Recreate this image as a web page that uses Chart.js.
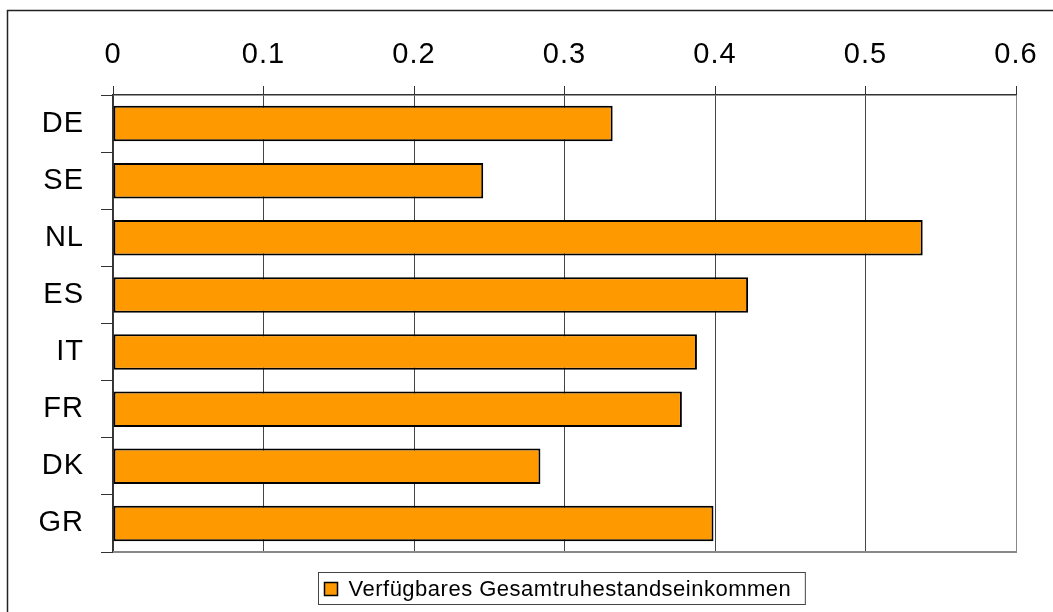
<!DOCTYPE html>
<html>
<head>
<meta charset="utf-8">
<script src="https://cdn.jsdelivr.net/npm/chart.js@4.4.1/dist/chart.umd.min.js"></script>
<style>
  html, body { margin: 0; padding: 0; background: #fff; }
  #wrap { width: 1053px; height: 612px; }
</style>
</head>
<body>
<div id="wrap"><canvas id="chart" width="1053" height="612"></canvas></div>
<script>
// Werte
const categories = ['DE', 'SE', 'NL', 'ES', 'IT', 'FR', 'DK', 'GR'];
const seriesLabel = 'Verfügbares Gesamtruhestandseinkommen';
const values = [0.332, 0.246, 0.538, 0.422, 0.388, 0.378, 0.284, 0.399];
const xTickLabels = ['0', '0.1', '0.2', '0.3', '0.4', '0.5', '0.6'];

const FONT = "'Liberation Sans', Arial, sans-serif";
const SPACING = '1px';

// Rahmen, untere Linie und Legende
const framePlugin = {
    id: 'frame',
    beforeUpdate(chart) {
        chart.ctx.letterSpacing = SPACING;
    },
    beforeDraw(chart) {
        const ctx = chart.ctx;
        ctx.letterSpacing = SPACING;
        ctx.save();
        ctx.fillStyle = '#fff';
        ctx.fillRect(0, 0, chart.width, chart.height);
        ctx.strokeStyle = '#222';
        ctx.lineWidth = 1.5;
        ctx.strokeRect(7.5, 10.5, chart.width + 50, chart.height + 50);
        ctx.restore();
    },
    afterDraw(chart) {
        const ctx = chart.ctx;
        const a = chart.chartArea;
        ctx.save();
        ctx.strokeStyle = '#888';
        ctx.lineWidth = 2;
        ctx.beginPath();
        ctx.moveTo(a.left, a.bottom);
        ctx.lineTo(a.right + 1, a.bottom);
        ctx.stroke();

        // Legende
        const ds = chart.data.datasets[0];
        ctx.font = '22px ' + FONT;
        ctx.letterSpacing = '0.5px';
        const textW = ctx.measureText(ds.label).width;
        const boxW = textW + 44;
        const boxX = Math.round((a.left + a.right) / 2 - boxW / 2) - 2.5;
        const boxY = 572.5;
        ctx.strokeStyle = '#444';
        ctx.lineWidth = 1;
        ctx.strokeRect(boxX, boxY, boxW, 32);
        ctx.fillStyle = ds.backgroundColor;
        ctx.fillRect(boxX + 6, boxY + 10, 13, 13);
        ctx.strokeStyle = '#000';
        ctx.lineWidth = 1.5;
        ctx.strokeRect(boxX + 6, boxY + 10, 13, 13);
        ctx.fillStyle = '#000';
        ctx.textBaseline = 'middle';
        ctx.textAlign = 'left';
        ctx.fillText(ds.label, boxX + 30, boxY + 17);
        ctx.restore();
        ctx.letterSpacing = SPACING;
    }
};

const ctx = document.getElementById('chart').getContext('2d');
new Chart(ctx, {
    type: 'bar',
    data: {
        labels: categories,
        datasets: [{
            label: seriesLabel,
            data: values,
            backgroundColor: '#FF9900',
            borderColor: '#000',
            borderWidth: 2,
            borderSkipped: false,
            categoryPercentage: 0.62,
            barPercentage: 1
        }]
    },
    options: {
        indexAxis: 'y',
        responsive: false,
        devicePixelRatio: 1,
        animation: false,
        layout: { padding: { top: 0, left: 0, right: 37, bottom: 60 } },
        plugins: {
            legend: { display: false },
            tooltip: { enabled: false }
        },
        scales: {
            x: {
                position: 'top',
                min: 0,
                max: 0.6,
                afterFit(scale) { scale.height = 95; },
                ticks: {
                    stepSize: 0.1,
                    color: '#000',
                    padding: 14,
                    maxRotation: 0,
                    font: { family: FONT, size: 29 },
                    callback: (v, i) => xTickLabels[i]
                },
                grid: {
                    color: (c) => (c.tick && Math.abs(c.tick.value - 0.6) < 1e-6) ? '#888' : '#444',
                    lineWidth: 1,
                    tickColor: '#333',
                    tickLength: 9
                },
                border: { color: '#333', width: 1.5 }
            },
            y: {
                afterFit(scale) { scale.width = 113; },
                ticks: {
                    color: '#000',
                    padding: 17,
                    font: { family: FONT, size: 29 }
                },
                grid: {
                    drawOnChartArea: false,
                    tickColor: '#333',
                    tickLength: 12,
                    offset: true
                },
                border: { color: '#333', width: 1.5 }
            }
        }
    },
    plugins: [framePlugin]
});
</script>
</body>
</html>
